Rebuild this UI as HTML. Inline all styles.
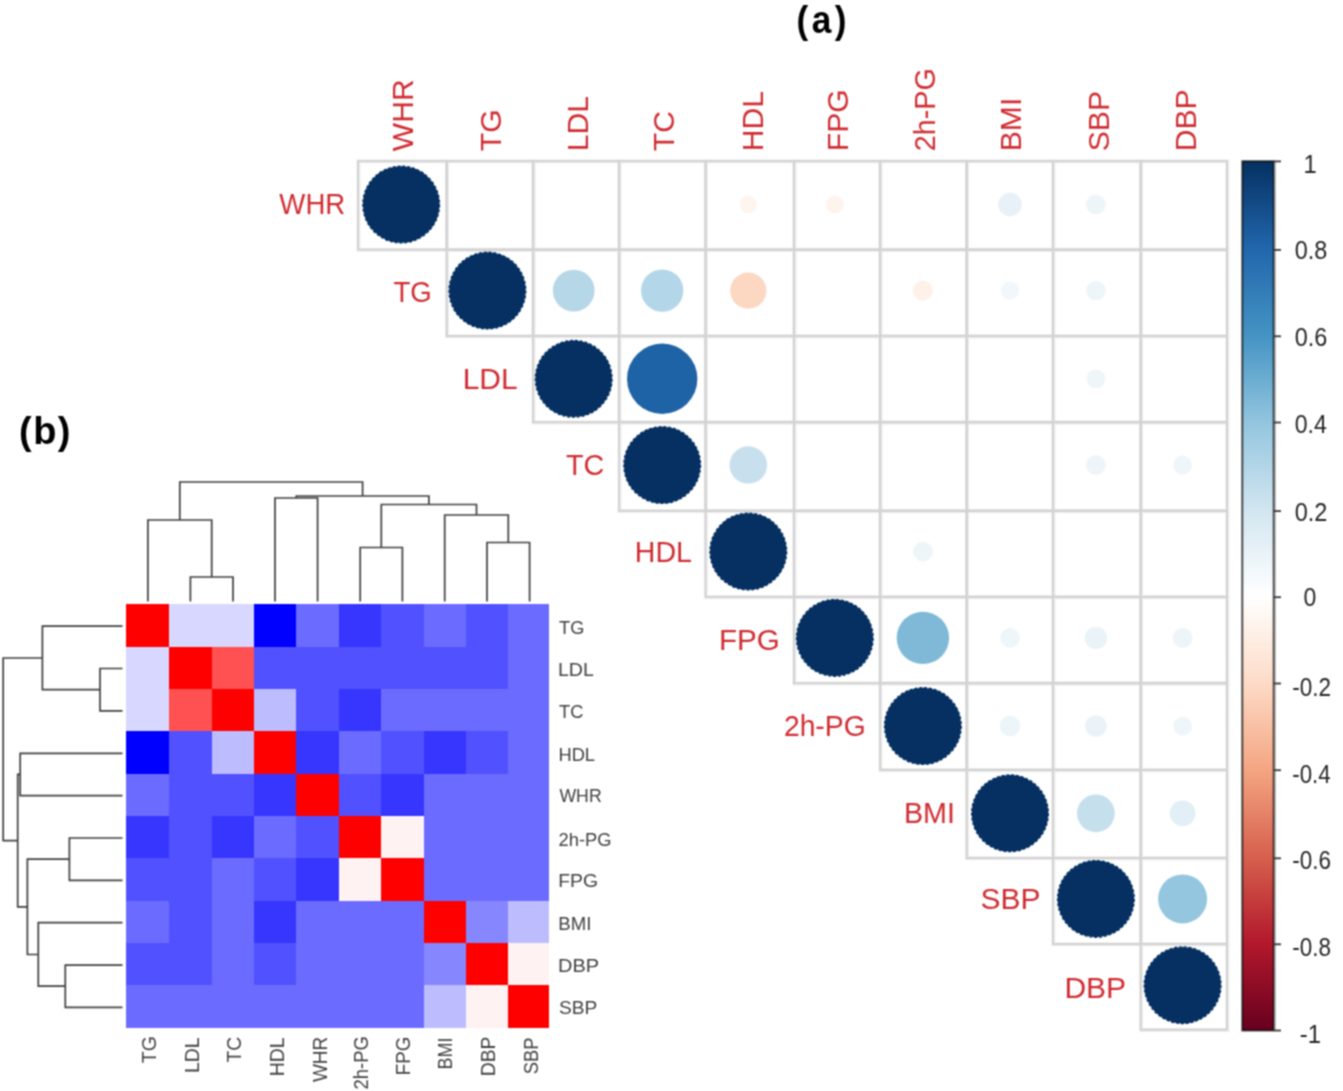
<!DOCTYPE html>
<html lang="en"><head><meta charset="utf-8"><title>Correlation plot and clustered heatmap</title>
<style>
html,body{margin:0;padding:0;background:#fff;}
body{width:1343px;height:1091px;overflow:hidden;font-family:"Liberation Sans",sans-serif;}
svg{display:block;}
</style></head><body>
<svg width="1343" height="1091" viewBox="0 0 1343 1091">
<defs><linearGradient id="cb" x1="0" y1="0" x2="0" y2="1">
<stop offset="0%" stop-color="#053061"/>
<stop offset="10%" stop-color="#2166AC"/>
<stop offset="20%" stop-color="#4393C3"/>
<stop offset="30%" stop-color="#92C5DE"/>
<stop offset="40%" stop-color="#D1E5F0"/>
<stop offset="50%" stop-color="#FFFFFF"/>
<stop offset="60%" stop-color="#FDDBC7"/>
<stop offset="70%" stop-color="#F4A582"/>
<stop offset="80%" stop-color="#D6604D"/>
<stop offset="90%" stop-color="#B2182B"/>
<stop offset="100%" stop-color="#67001F"/>
</linearGradient>
<filter id="soft" filterUnits="userSpaceOnUse" x="0" y="0" width="1343" height="1091" color-interpolation-filters="sRGB"><feConvolveMatrix order="3" kernelMatrix="1 2 1 2 4 2 1 2 1" divisor="16" edgeMode="duplicate" preserveAlpha="true"/></filter></defs>
<g filter="url(#soft)">
<rect width="1343" height="1091" fill="#fff"/>
<g fill="none" stroke="#eeeeee" stroke-width="4.0" transform="translate(0.4 0.3)"><rect x="358.05" y="161.1" width="88.6" height="88.5"/><rect x="446.7" y="161.1" width="86.4" height="88.5"/><rect x="533.1" y="161.1" width="86.0" height="88.5"/><rect x="619.1" y="161.1" width="86.4" height="88.5"/><rect x="705.5" y="161.1" width="88.5" height="88.5"/><rect x="794.0" y="161.1" width="86.1" height="88.5"/><rect x="880.1" y="161.1" width="86.6" height="88.5"/><rect x="966.7" y="161.1" width="86.3" height="88.5"/><rect x="1053.0" y="161.1" width="87.7" height="88.5"/><rect x="1140.7" y="161.1" width="86.3" height="88.5"/><rect x="446.7" y="249.6" width="86.4" height="86.4"/><rect x="533.1" y="249.6" width="86.0" height="86.4"/><rect x="619.1" y="249.6" width="86.4" height="86.4"/><rect x="705.5" y="249.6" width="88.5" height="86.4"/><rect x="794.0" y="249.6" width="86.1" height="86.4"/><rect x="880.1" y="249.6" width="86.6" height="86.4"/><rect x="966.7" y="249.6" width="86.3" height="86.4"/><rect x="1053.0" y="249.6" width="87.7" height="86.4"/><rect x="1140.7" y="249.6" width="86.3" height="86.4"/><rect x="533.1" y="336.0" width="86.0" height="86.2"/><rect x="619.1" y="336.0" width="86.4" height="86.2"/><rect x="705.5" y="336.0" width="88.5" height="86.2"/><rect x="794.0" y="336.0" width="86.1" height="86.2"/><rect x="880.1" y="336.0" width="86.6" height="86.2"/><rect x="966.7" y="336.0" width="86.3" height="86.2"/><rect x="1053.0" y="336.0" width="87.7" height="86.2"/><rect x="1140.7" y="336.0" width="86.3" height="86.2"/><rect x="619.1" y="422.2" width="86.4" height="88.6"/><rect x="705.5" y="422.2" width="88.5" height="88.6"/><rect x="794.0" y="422.2" width="86.1" height="88.6"/><rect x="880.1" y="422.2" width="86.6" height="88.6"/><rect x="966.7" y="422.2" width="86.3" height="88.6"/><rect x="1053.0" y="422.2" width="87.7" height="88.6"/><rect x="1140.7" y="422.2" width="86.3" height="88.6"/><rect x="705.5" y="510.8" width="88.5" height="86.1"/><rect x="794.0" y="510.8" width="86.1" height="86.1"/><rect x="880.1" y="510.8" width="86.6" height="86.1"/><rect x="966.7" y="510.8" width="86.3" height="86.1"/><rect x="1053.0" y="510.8" width="87.7" height="86.1"/><rect x="1140.7" y="510.8" width="86.3" height="86.1"/><rect x="794.0" y="596.9" width="86.1" height="86.3"/><rect x="880.1" y="596.9" width="86.6" height="86.3"/><rect x="966.7" y="596.9" width="86.3" height="86.3"/><rect x="1053.0" y="596.9" width="87.7" height="86.3"/><rect x="1140.7" y="596.9" width="86.3" height="86.3"/><rect x="880.1" y="683.2" width="86.6" height="86.7"/><rect x="966.7" y="683.2" width="86.3" height="86.7"/><rect x="1053.0" y="683.2" width="87.7" height="86.7"/><rect x="1140.7" y="683.2" width="86.3" height="86.7"/><rect x="966.7" y="769.9" width="86.3" height="88.1"/><rect x="1053.0" y="769.9" width="87.7" height="88.1"/><rect x="1140.7" y="769.9" width="86.3" height="88.1"/><rect x="1053.0" y="858.0" width="87.7" height="86.0"/><rect x="1140.7" y="858.0" width="86.3" height="86.0"/><rect x="1140.7" y="944.0" width="86.3" height="85.7"/></g>
<g fill="none" stroke="#d2d2d2" stroke-width="2.0"><rect x="358.05" y="161.1" width="88.6" height="88.5"/><rect x="446.7" y="161.1" width="86.4" height="88.5"/><rect x="533.1" y="161.1" width="86.0" height="88.5"/><rect x="619.1" y="161.1" width="86.4" height="88.5"/><rect x="705.5" y="161.1" width="88.5" height="88.5"/><rect x="794.0" y="161.1" width="86.1" height="88.5"/><rect x="880.1" y="161.1" width="86.6" height="88.5"/><rect x="966.7" y="161.1" width="86.3" height="88.5"/><rect x="1053.0" y="161.1" width="87.7" height="88.5"/><rect x="1140.7" y="161.1" width="86.3" height="88.5"/><rect x="446.7" y="249.6" width="86.4" height="86.4"/><rect x="533.1" y="249.6" width="86.0" height="86.4"/><rect x="619.1" y="249.6" width="86.4" height="86.4"/><rect x="705.5" y="249.6" width="88.5" height="86.4"/><rect x="794.0" y="249.6" width="86.1" height="86.4"/><rect x="880.1" y="249.6" width="86.6" height="86.4"/><rect x="966.7" y="249.6" width="86.3" height="86.4"/><rect x="1053.0" y="249.6" width="87.7" height="86.4"/><rect x="1140.7" y="249.6" width="86.3" height="86.4"/><rect x="533.1" y="336.0" width="86.0" height="86.2"/><rect x="619.1" y="336.0" width="86.4" height="86.2"/><rect x="705.5" y="336.0" width="88.5" height="86.2"/><rect x="794.0" y="336.0" width="86.1" height="86.2"/><rect x="880.1" y="336.0" width="86.6" height="86.2"/><rect x="966.7" y="336.0" width="86.3" height="86.2"/><rect x="1053.0" y="336.0" width="87.7" height="86.2"/><rect x="1140.7" y="336.0" width="86.3" height="86.2"/><rect x="619.1" y="422.2" width="86.4" height="88.6"/><rect x="705.5" y="422.2" width="88.5" height="88.6"/><rect x="794.0" y="422.2" width="86.1" height="88.6"/><rect x="880.1" y="422.2" width="86.6" height="88.6"/><rect x="966.7" y="422.2" width="86.3" height="88.6"/><rect x="1053.0" y="422.2" width="87.7" height="88.6"/><rect x="1140.7" y="422.2" width="86.3" height="88.6"/><rect x="705.5" y="510.8" width="88.5" height="86.1"/><rect x="794.0" y="510.8" width="86.1" height="86.1"/><rect x="880.1" y="510.8" width="86.6" height="86.1"/><rect x="966.7" y="510.8" width="86.3" height="86.1"/><rect x="1053.0" y="510.8" width="87.7" height="86.1"/><rect x="1140.7" y="510.8" width="86.3" height="86.1"/><rect x="794.0" y="596.9" width="86.1" height="86.3"/><rect x="880.1" y="596.9" width="86.6" height="86.3"/><rect x="966.7" y="596.9" width="86.3" height="86.3"/><rect x="1053.0" y="596.9" width="87.7" height="86.3"/><rect x="1140.7" y="596.9" width="86.3" height="86.3"/><rect x="880.1" y="683.2" width="86.6" height="86.7"/><rect x="966.7" y="683.2" width="86.3" height="86.7"/><rect x="1053.0" y="683.2" width="87.7" height="86.7"/><rect x="1140.7" y="683.2" width="86.3" height="86.7"/><rect x="966.7" y="769.9" width="86.3" height="88.1"/><rect x="1053.0" y="769.9" width="87.7" height="88.1"/><rect x="1140.7" y="769.9" width="86.3" height="88.1"/><rect x="1053.0" y="858.0" width="87.7" height="86.0"/><rect x="1140.7" y="858.0" width="86.3" height="86.0"/><rect x="1140.7" y="944.0" width="86.3" height="85.7"/></g>
<circle cx="401.2" cy="204.5" r="38.3" fill="#053061" stroke="#053061" stroke-width="1.4" stroke-dasharray="3.1 1.8"/>
<circle cx="487.4" cy="290.6" r="38.3" fill="#053061" stroke="#053061" stroke-width="1.4" stroke-dasharray="3.1 1.8"/>
<circle cx="573.7" cy="378.8" r="38.3" fill="#053061" stroke="#053061" stroke-width="1.4" stroke-dasharray="3.1 1.8"/>
<circle cx="662.2" cy="465.0" r="38.3" fill="#053061" stroke="#053061" stroke-width="1.4" stroke-dasharray="3.1 1.8"/>
<circle cx="748.3" cy="551.5" r="38.3" fill="#053061" stroke="#053061" stroke-width="1.4" stroke-dasharray="3.1 1.8"/>
<circle cx="834.8" cy="637.9" r="38.3" fill="#053061" stroke="#053061" stroke-width="1.4" stroke-dasharray="3.1 1.8"/>
<circle cx="922.9" cy="726.0" r="38.3" fill="#053061" stroke="#053061" stroke-width="1.4" stroke-dasharray="3.1 1.8"/>
<circle cx="1010.0" cy="813.3" r="38.3" fill="#053061" stroke="#053061" stroke-width="1.4" stroke-dasharray="3.1 1.8"/>
<circle cx="1095.9" cy="898.9" r="38.3" fill="#053061" stroke="#053061" stroke-width="1.4" stroke-dasharray="3.1 1.8"/>
<circle cx="1182.6" cy="985.2" r="38.3" fill="#053061" stroke="#053061" stroke-width="1.4" stroke-dasharray="3.1 1.8"/>
<circle cx="748.3" cy="204.5" r="8.7" fill="#fef5ef"/>
<circle cx="834.8" cy="204.5" r="9.0" fill="#fef4ee"/>
<circle cx="1010.0" cy="204.5" r="11.8" fill="#e7f1f7"/>
<circle cx="1095.9" cy="204.5" r="9.9" fill="#eef5f9"/>
<circle cx="573.7" cy="290.6" r="20.9" fill="#b6d7e8"/>
<circle cx="662.2" cy="290.6" r="21.2" fill="#b3d6e8"/>
<circle cx="748.3" cy="290.6" r="18.1" fill="#fcd7c2"/>
<circle cx="922.9" cy="290.6" r="10.1" fill="#fef1ea"/>
<circle cx="1010.0" cy="290.6" r="9.2" fill="#f1f7fa"/>
<circle cx="1095.9" cy="290.6" r="9.9" fill="#eef5f9"/>
<circle cx="662.2" cy="378.8" r="35.2" fill="#1f63a7"/>
<circle cx="1095.9" cy="378.8" r="9.5" fill="#eff6fa"/>
<circle cx="748.3" cy="465.0" r="18.8" fill="#c8e0ed"/>
<circle cx="1095.9" cy="465.0" r="10.0" fill="#eef5f9"/>
<circle cx="1182.6" cy="465.0" r="9.5" fill="#eff6fa"/>
<circle cx="922.9" cy="551.5" r="10.0" fill="#eef5f9"/>
<circle cx="922.9" cy="637.9" r="26.2" fill="#7fb9d7"/>
<circle cx="1010.0" cy="637.9" r="9.8" fill="#eef6fa"/>
<circle cx="1095.9" cy="637.9" r="11.2" fill="#e9f3f8"/>
<circle cx="1182.6" cy="637.9" r="10.0" fill="#eef5f9"/>
<circle cx="1010.0" cy="726.0" r="10.3" fill="#ecf5f9"/>
<circle cx="1095.9" cy="726.0" r="10.8" fill="#ebf3f8"/>
<circle cx="1182.6" cy="726.0" r="9.5" fill="#eff6fa"/>
<circle cx="1095.9" cy="813.3" r="18.9" fill="#c6dfed"/>
<circle cx="1182.6" cy="813.3" r="12.9" fill="#e2eff6"/>
<circle cx="1182.6" cy="898.9" r="24.5" fill="#94c6df"/>
<g font-family="'Liberation Sans', sans-serif" font-size="29.2" fill="#cf2b31">
<text transform="translate(279.36 214.15) scale(0.946 1)">WHR</text>
<text transform="translate(393.48 302.15) scale(0.945 1)">TG</text>
<text transform="translate(462.73 389.30) scale(1.025 1)">LDL</text>
<text transform="translate(566.05 474.85) scale(0.984 1)">TC</text>
<text transform="translate(634.84 561.60) scale(0.979 1)">HDL</text>
<text transform="translate(718.96 649.55) scale(1.014 1)">FPG</text>
<text transform="translate(783.89 736.15) scale(0.969 1)">2h-PG</text>
<text transform="translate(903.93 822.95) scale(0.983 1)">BMI</text>
<text transform="translate(980.55 909.05) scale(1.025 1)">SBP</text>
<text transform="translate(1064.42 997.65) scale(1.028 1)">DBP</text>
<text font-size="30.1" transform="translate(413.4 151.2) rotate(-90) scale(1.0 1)">WHR</text>
<text font-size="30.1" transform="translate(501.3 151.2) rotate(-90) scale(1.0 1)">TG</text>
<text font-size="30.1" transform="translate(588.1 151.2) rotate(-90) scale(1.0 1)">LDL</text>
<text font-size="30.1" transform="translate(674.2 151.2) rotate(-90) scale(1.0 1)">TC</text>
<text font-size="30.1" transform="translate(762.8 151.2) rotate(-90) scale(1.0 1)">HDL</text>
<text font-size="30.1" transform="translate(848.3 151.2) rotate(-90) scale(1.0 1)">FPG</text>
<text font-size="30.1" transform="translate(935.0 151.2) rotate(-90) scale(0.955 1)">2h-PG</text>
<text font-size="30.1" transform="translate(1021.0 151.2) rotate(-90) scale(1.0 1)">BMI</text>
<text font-size="30.1" transform="translate(1109.3 151.2) rotate(-90) scale(1.0 1)">SBP</text>
<text font-size="30.1" transform="translate(1195.9 151.2) rotate(-90) scale(1.0 1)">DBP</text>
</g>
<rect x="1242.3" y="161.2" width="31.4" height="869.3" fill="url(#cb)" stroke="#000" stroke-opacity="0.72" stroke-width="1.9"/>
<line x1="1275.0" y1="161.2" x2="1275.0" y2="1030.5" stroke="#8a8a8a" stroke-width="1.2"/>
<g stroke="#3a3a3a" stroke-width="1.8">
<line x1="1273.7" y1="161.4" x2="1281" y2="161.4"/>
<line x1="1273.7" y1="249.9" x2="1281" y2="249.9"/>
<line x1="1273.7" y1="336.3" x2="1281" y2="336.3"/>
<line x1="1273.7" y1="422.5" x2="1281" y2="422.5"/>
<line x1="1273.7" y1="511.1" x2="1281" y2="511.1"/>
<line x1="1273.7" y1="597.2" x2="1281" y2="597.2"/>
<line x1="1273.7" y1="683.5" x2="1281" y2="683.5"/>
<line x1="1273.7" y1="770.2" x2="1281" y2="770.2"/>
<line x1="1273.7" y1="858.3" x2="1281" y2="858.3"/>
<line x1="1273.7" y1="944.3" x2="1281" y2="944.3"/>
<line x1="1273.7" y1="1030.5" x2="1281" y2="1030.5"/>
</g>
<g font-family="'Liberation Sans', sans-serif" font-size="25.6" fill="#262626">
<text transform="translate(1303.4 173.2) scale(0.93 1)">1</text>
<text transform="translate(1294.66 259.10) scale(0.914 1)">0.8</text>
<text transform="translate(1294.66 345.70) scale(0.914 1)">0.6</text>
<text transform="translate(1294.67 433.10) scale(0.904 1)">0.4</text>
<text transform="translate(1294.66 520.60) scale(0.919 1)">0.2</text>
<text transform="translate(1303.58 606.40) scale(0.900 1)">0</text>
<text transform="translate(1292.29 696.00) scale(0.881 1)">-0.2</text>
<text transform="translate(1292.30 782.50) scale(0.869 1)">-0.4</text>
<text transform="translate(1292.29 869.00) scale(0.877 1)">-0.6</text>
<text transform="translate(1292.29 956.00) scale(0.877 1)">-0.8</text>
<text transform="translate(1299.8 1042.6) scale(0.93 1)">-1</text>
</g>
<g font-family="'Liberation Sans', sans-serif" font-weight="bold" fill="#000">
<text transform="translate(796.6 32.6) scale(0.915 1)" font-size="38.5" letter-spacing="3.7">(a)</text>
<text transform="translate(19.1 444.4) scale(0.96 1)" font-size="39.6" letter-spacing="1.5">(b)</text>
</g>
<g shape-rendering="crispEdges">
<rect x="126.10" y="604.20" width="43.70" height="42.96" fill="#ff0000"/>
<rect x="169.20" y="604.20" width="43.20" height="42.96" fill="#d7d7ff"/>
<rect x="211.80" y="604.20" width="42.30" height="42.96" fill="#d7d7ff"/>
<rect x="253.50" y="604.20" width="43.40" height="42.96" fill="#0000ff"/>
<rect x="296.30" y="604.20" width="43.20" height="42.96" fill="#6b6bff"/>
<rect x="338.90" y="604.20" width="43.00" height="42.96" fill="#3636ff"/>
<rect x="381.30" y="604.20" width="42.80" height="42.96" fill="#5151ff"/>
<rect x="423.50" y="604.20" width="42.60" height="42.96" fill="#6b6bff"/>
<rect x="465.50" y="604.20" width="43.30" height="42.96" fill="#5151ff"/>
<rect x="508.20" y="604.20" width="41.20" height="42.96" fill="#6b6bff"/>
<rect x="126.10" y="646.56" width="43.70" height="42.96" fill="#d7d7ff"/>
<rect x="169.20" y="646.56" width="43.20" height="42.96" fill="#ff0000"/>
<rect x="211.80" y="646.56" width="42.30" height="42.96" fill="#ff5151"/>
<rect x="253.50" y="646.56" width="43.40" height="42.96" fill="#5151ff"/>
<rect x="296.30" y="646.56" width="43.20" height="42.96" fill="#5151ff"/>
<rect x="338.90" y="646.56" width="43.00" height="42.96" fill="#5151ff"/>
<rect x="381.30" y="646.56" width="42.80" height="42.96" fill="#5151ff"/>
<rect x="423.50" y="646.56" width="42.60" height="42.96" fill="#5151ff"/>
<rect x="465.50" y="646.56" width="43.30" height="42.96" fill="#5151ff"/>
<rect x="508.20" y="646.56" width="41.20" height="42.96" fill="#6b6bff"/>
<rect x="126.10" y="688.92" width="43.70" height="42.96" fill="#d7d7ff"/>
<rect x="169.20" y="688.92" width="43.20" height="42.96" fill="#ff5151"/>
<rect x="211.80" y="688.92" width="42.30" height="42.96" fill="#ff0000"/>
<rect x="253.50" y="688.92" width="43.40" height="42.96" fill="#bcbcff"/>
<rect x="296.30" y="688.92" width="43.20" height="42.96" fill="#5151ff"/>
<rect x="338.90" y="688.92" width="43.00" height="42.96" fill="#3636ff"/>
<rect x="381.30" y="688.92" width="42.80" height="42.96" fill="#6b6bff"/>
<rect x="423.50" y="688.92" width="42.60" height="42.96" fill="#6b6bff"/>
<rect x="465.50" y="688.92" width="43.30" height="42.96" fill="#6b6bff"/>
<rect x="508.20" y="688.92" width="41.20" height="42.96" fill="#6b6bff"/>
<rect x="126.10" y="731.28" width="43.70" height="42.96" fill="#0000ff"/>
<rect x="169.20" y="731.28" width="43.20" height="42.96" fill="#5151ff"/>
<rect x="211.80" y="731.28" width="42.30" height="42.96" fill="#bcbcff"/>
<rect x="253.50" y="731.28" width="43.40" height="42.96" fill="#ff0000"/>
<rect x="296.30" y="731.28" width="43.20" height="42.96" fill="#3636ff"/>
<rect x="338.90" y="731.28" width="43.00" height="42.96" fill="#6b6bff"/>
<rect x="381.30" y="731.28" width="42.80" height="42.96" fill="#5151ff"/>
<rect x="423.50" y="731.28" width="42.60" height="42.96" fill="#3636ff"/>
<rect x="465.50" y="731.28" width="43.30" height="42.96" fill="#5151ff"/>
<rect x="508.20" y="731.28" width="41.20" height="42.96" fill="#6b6bff"/>
<rect x="126.10" y="773.64" width="43.70" height="42.96" fill="#6b6bff"/>
<rect x="169.20" y="773.64" width="43.20" height="42.96" fill="#5151ff"/>
<rect x="211.80" y="773.64" width="42.30" height="42.96" fill="#5151ff"/>
<rect x="253.50" y="773.64" width="43.40" height="42.96" fill="#3636ff"/>
<rect x="296.30" y="773.64" width="43.20" height="42.96" fill="#ff0000"/>
<rect x="338.90" y="773.64" width="43.00" height="42.96" fill="#5151ff"/>
<rect x="381.30" y="773.64" width="42.80" height="42.96" fill="#3636ff"/>
<rect x="423.50" y="773.64" width="42.60" height="42.96" fill="#6b6bff"/>
<rect x="465.50" y="773.64" width="43.30" height="42.96" fill="#6b6bff"/>
<rect x="508.20" y="773.64" width="41.20" height="42.96" fill="#6b6bff"/>
<rect x="126.10" y="816.00" width="43.70" height="42.96" fill="#3636ff"/>
<rect x="169.20" y="816.00" width="43.20" height="42.96" fill="#5151ff"/>
<rect x="211.80" y="816.00" width="42.30" height="42.96" fill="#3636ff"/>
<rect x="253.50" y="816.00" width="43.40" height="42.96" fill="#6b6bff"/>
<rect x="296.30" y="816.00" width="43.20" height="42.96" fill="#5151ff"/>
<rect x="338.90" y="816.00" width="43.00" height="42.96" fill="#ff0000"/>
<rect x="381.30" y="816.00" width="42.80" height="42.96" fill="#fff2f2"/>
<rect x="423.50" y="816.00" width="42.60" height="42.96" fill="#6b6bff"/>
<rect x="465.50" y="816.00" width="43.30" height="42.96" fill="#6b6bff"/>
<rect x="508.20" y="816.00" width="41.20" height="42.96" fill="#6b6bff"/>
<rect x="126.10" y="858.36" width="43.70" height="42.96" fill="#5151ff"/>
<rect x="169.20" y="858.36" width="43.20" height="42.96" fill="#5151ff"/>
<rect x="211.80" y="858.36" width="42.30" height="42.96" fill="#6b6bff"/>
<rect x="253.50" y="858.36" width="43.40" height="42.96" fill="#5151ff"/>
<rect x="296.30" y="858.36" width="43.20" height="42.96" fill="#3636ff"/>
<rect x="338.90" y="858.36" width="43.00" height="42.96" fill="#fff2f2"/>
<rect x="381.30" y="858.36" width="42.80" height="42.96" fill="#ff0000"/>
<rect x="423.50" y="858.36" width="42.60" height="42.96" fill="#6b6bff"/>
<rect x="465.50" y="858.36" width="43.30" height="42.96" fill="#6b6bff"/>
<rect x="508.20" y="858.36" width="41.20" height="42.96" fill="#6b6bff"/>
<rect x="126.10" y="900.72" width="43.70" height="42.96" fill="#6b6bff"/>
<rect x="169.20" y="900.72" width="43.20" height="42.96" fill="#5151ff"/>
<rect x="211.80" y="900.72" width="42.30" height="42.96" fill="#6b6bff"/>
<rect x="253.50" y="900.72" width="43.40" height="42.96" fill="#3636ff"/>
<rect x="296.30" y="900.72" width="43.20" height="42.96" fill="#6b6bff"/>
<rect x="338.90" y="900.72" width="43.00" height="42.96" fill="#6b6bff"/>
<rect x="381.30" y="900.72" width="42.80" height="42.96" fill="#6b6bff"/>
<rect x="423.50" y="900.72" width="42.60" height="42.96" fill="#ff0000"/>
<rect x="465.50" y="900.72" width="43.30" height="42.96" fill="#8686ff"/>
<rect x="508.20" y="900.72" width="41.20" height="42.96" fill="#bcbcff"/>
<rect x="126.10" y="943.08" width="43.70" height="42.96" fill="#5151ff"/>
<rect x="169.20" y="943.08" width="43.20" height="42.96" fill="#5151ff"/>
<rect x="211.80" y="943.08" width="42.30" height="42.96" fill="#6b6bff"/>
<rect x="253.50" y="943.08" width="43.40" height="42.96" fill="#5151ff"/>
<rect x="296.30" y="943.08" width="43.20" height="42.96" fill="#6b6bff"/>
<rect x="338.90" y="943.08" width="43.00" height="42.96" fill="#6b6bff"/>
<rect x="381.30" y="943.08" width="42.80" height="42.96" fill="#6b6bff"/>
<rect x="423.50" y="943.08" width="42.60" height="42.96" fill="#8686ff"/>
<rect x="465.50" y="943.08" width="43.30" height="42.96" fill="#ff0000"/>
<rect x="508.20" y="943.08" width="41.20" height="42.96" fill="#fff2f2"/>
<rect x="126.10" y="985.44" width="43.70" height="42.36" fill="#6b6bff"/>
<rect x="169.20" y="985.44" width="43.20" height="42.36" fill="#6b6bff"/>
<rect x="211.80" y="985.44" width="42.30" height="42.36" fill="#6b6bff"/>
<rect x="253.50" y="985.44" width="43.40" height="42.36" fill="#6b6bff"/>
<rect x="296.30" y="985.44" width="43.20" height="42.36" fill="#6b6bff"/>
<rect x="338.90" y="985.44" width="43.00" height="42.36" fill="#6b6bff"/>
<rect x="381.30" y="985.44" width="42.80" height="42.36" fill="#6b6bff"/>
<rect x="423.50" y="985.44" width="42.60" height="42.36" fill="#bcbcff"/>
<rect x="465.50" y="985.44" width="43.30" height="42.36" fill="#fff2f2"/>
<rect x="508.20" y="985.44" width="41.20" height="42.36" fill="#ff0000"/>
</g>
<g font-family="'Liberation Sans', sans-serif" font-size="20.3" fill="#404040">
<text font-size="18.8" transform="translate(559.09 633.86) scale(0.969 1)">TG</text>
<text font-size="18.8" transform="translate(557.89 676.16) scale(1.041 1)">LDL</text>
<text font-size="18.8" transform="translate(559.09 718.46) scale(0.972 1)">TC</text>
<text font-size="18.8" transform="translate(558.39 760.76) scale(0.976 1)">HDL</text>
<text font-size="18.8" transform="translate(559.41 802.46) scale(0.941 1)">WHR</text>
<text font-size="18.8" transform="translate(558.58 845.66) scale(0.977 1)">2h-PG</text>
<text font-size="18.8" transform="translate(558.30 887.46) scale(1.029 1)">FPG</text>
<text font-size="18.8" transform="translate(558.37 929.86) scale(0.989 1)">BMI</text>
<text font-size="18.8" transform="translate(558.05 971.86) scale(1.062 1)">DBP</text>
<text font-size="18.8" transform="translate(558.94 1014.06) scale(1.019 1)">SBP</text>
<text font-size="19.8" transform="translate(155.91 1063.14) rotate(-90) scale(0.983 1)">TG</text>
<text font-size="19.8" transform="translate(199.31 1073.00) rotate(-90) scale(0.979 1)">LDL</text>
<text font-size="19.8" transform="translate(241.11 1062.43) rotate(-90) scale(0.970 1)">TC</text>
<text font-size="19.8" transform="translate(283.81 1076.30) rotate(-90) scale(0.981 1)">HDL</text>
<text font-size="19.8" transform="translate(326.71 1082.10) rotate(-90) scale(0.960 1)">WHR</text>
<text font-size="19.8" transform="translate(367.81 1089.52) rotate(-90) scale(0.932 1)">2h-PG</text>
<text font-size="19.8" transform="translate(410.31 1075.35) rotate(-90) scale(0.950 1)">FPG</text>
<text font-size="19.8" transform="translate(451.91 1069.59) rotate(-90) scale(0.911 1)">BMI</text>
<text font-size="19.8" transform="translate(494.61 1076.29) rotate(-90) scale(0.975 1)">DBP</text>
<text font-size="19.8" transform="translate(537.71 1074.33) rotate(-90) scale(0.931 1)">SBP</text>
</g>
<path d="M190.4 601.5V577.0H233.0V601.5M147.9 601.5V520.0H211.7V577.0M275.0 601.5V498.0H317.6V601.5M360.2 601.5V547.5H402.4V601.5M487.0 601.5V542.5H529.6V601.5M444.7 601.5V515.0H508.3V542.5M381.3 547.5V504.5H476.5V515.0M296.3 498.0V496.0H428.9V504.5M179.8 520.0V482.0H362.6V496.0" fill="none" stroke="#404040" stroke-width="1.7"/>
<path d="M122.5 668.5H100.0V710.9H122.5M122.5 626.2H42.4V689.7H100.0M122.5 753.3H20.2V795.6H122.5M122.5 838.0H69.4V880.3H122.5M122.5 965.1H65.3V1007.4H122.5M122.5 922.7H38.3V986.2H65.3M69.4 859.2H27.4V954.5H38.3M20.2 774.4H17.7V906.8H27.4M42.4 658.0H3.2V840.6H17.7" fill="none" stroke="#404040" stroke-width="1.7"/>
</g>
</svg>
</body></html>
